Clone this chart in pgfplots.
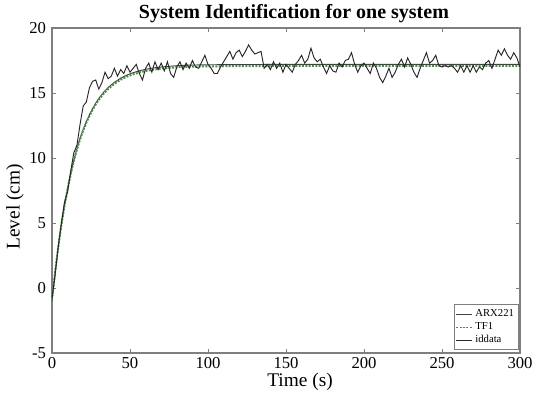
\documentclass[border=0pt]{standalone}
\usepackage{pgfplots}
\pgfplotsset{compat=1.18}
\usepackage{fontspec}
\setmainfont{Liberation Serif}
\definecolor{axgray}{HTML}{7F7F7F}
\definecolor{tfgreen}{HTML}{4E8C4E}
\begin{document}
\begin{tikzpicture}[x=1pt,y=1pt]
\begin{axis}[
  at={(0,0)}, anchor=south west,
  scale only axis, width=351pt, height=243.75pt,
  xmin=0, xmax=300, ymin=-5, ymax=20,
  xtick={0,50,...,300}, ytick={-5,0,...,20},
  tick align=inside, tick pos=both,
  major tick length=3pt,
  axis line style={axgray, line width=0.8pt},
  every tick/.style={axgray, line width=0.6pt},
  /pgf/number format/assume math mode=true,
  ticklabel style={font=\fontsize{12.5}{14}\selectfont, text=black},
  yticklabel style={xshift=-1pt},
  title={\textbf{System Identification for one system}},
  title style={font=\fontsize{15}{17}\selectfont, at={(axis description cs:0.517,1.043)}, anchor=center, yshift=-6pt},
  xlabel={Time (s)},
  xlabel style={font=\fontsize{14.5}{16}\selectfont, at={(axis description cs:0.53,-0.089)}, anchor=center},
  ylabel={Level (cm)},
  ylabel style={font=\fontsize{14.5}{16}\selectfont, at={(axis description cs:-0.079,0.45)}, anchor=center, rotate=0},
  legend style={at={(1,0)}, anchor=south east, xshift=-0.75pt, yshift=2.25pt,
    font=\fontsize{8}{9}\selectfont, draw=axgray, line width=0.6pt, inner sep=1.5pt,
    row sep=-1pt, cells={anchor=west}},
  legend image post style={line width=0.6pt},
  legend image code/.code={\draw[#1] (0pt,0pt) -- (12pt,0pt);},
  legend cell align=left,
]
% ARX221
\addplot[color=black!75, line width=0.7pt] coordinates {
(0,-1.00) (2,1.20) (4,3.13) (6,4.84) (8,6.33) (10,7.65) (12,8.81) (14,9.83)
(16,10.72) (18,11.50) (20,12.20) (22,12.80) (24,13.32) (26,13.80) (28,14.22)
(30,14.58) (32,14.89) (34,15.18) (36,15.42) (38,15.63) (40,15.82) (44,16.14)
(48,16.38) (52,16.56) (56,16.71) (60,16.82) (65,16.93) (70,17.00) (80,17.10)
(90,17.15) (100,17.17) (120,17.19) (150,17.20) (200,17.20) (250,17.20) (300,17.20)
};
\addlegendentry{ARX221}
% TF1
\addplot[color=tfgreen, line width=1.5pt, densely dotted] coordinates {
(0,-0.90) (2,1.25) (4,3.15) (6,4.84) (8,6.32) (10,7.62) (12,8.77) (14,9.78)
(16,10.66) (18,11.44) (20,12.12) (22,12.72) (24,13.24) (26,13.71) (28,14.12)
(30,14.48) (32,14.79) (34,15.07) (36,15.31) (38,15.52) (40,15.71) (44,16.02)
(48,16.26) (52,16.44) (56,16.58) (60,16.69) (65,16.80) (70,16.88) (80,16.98)
(90,17.03) (100,17.05) (120,17.07) (150,17.08) (200,17.08) (250,17.08) (300,17.08)
};
\addlegendentry{TF1}
% iddata
\addplot[color=black!85, line width=0.7pt] coordinates {
(0,-0.8) (2,1.0) (4,3.2) (6,5.0) (8,6.6) (10,7.4) (12,9.0) (14,10.4) (16,11.0)
(18,12.6) (20,14.0) (22,14.3) (24,15.4) (26,15.9) (28,16.0) (30,15.3) (32,15.8)
(34,16.6) (36,16.1) (38,16.3) (40,16.9) (42,16.3) (44,16.8) (46,16.5) (48,17.1)
(50,16.6) (52,16.9) (54,17.2) (56,16.5) (58,16.0) (60,16.9) (62,17.3) (64,16.6)
(66,17.4) (68,16.8) (70,17.3) (72,16.7) (74,17.4) (76,16.5) (78,16.2) (80,17.0)
(82,17.4) (84,16.8) (86,17.3) (88,16.9) (90,17.5) (92,17.0) (94,16.9) (96,17.4)
(98,17.9) (100,17.2) (102,16.9) (104,16.5) (106,16.5) (108,17.0) (110,17.4)
(112,17.8) (114,18.2) (116,17.6) (118,18.1) (120,18.3) (122,17.8) (124,18.2)
(126,18.7) (128,18.3) (130,18.0) (132,18.1) (134,18.2) (136,16.9) (138,17.2)
(140,16.8) (142,17.4) (144,16.9) (146,17.3) (148,16.6) (150,17.2) (152,16.9)
(154,16.6) (156,17.2) (158,17.5) (160,17.9) (162,17.3) (164,17.6) (166,18.45)
(168,17.7) (170,17.4) (172,17.6) (174,17.0) (176,16.5) (178,17.1) (180,16.7)
(182,16.6) (184,17.3) (186,17.0) (188,17.5) (190,17.6) (192,18.1) (194,17.2)
(196,16.6) (198,17.1) (200,17.3) (202,16.9) (204,16.5) (206,17.3) (208,16.9)
(210,16.2) (212,15.8) (214,16.3) (216,16.9) (218,16.2) (220,16.6) (222,17.2)
(224,17.6) (226,17.0) (228,17.7) (230,17.2) (232,16.6) (234,16.2) (236,16.9)
(238,17.5) (240,18.1) (242,17.3) (244,17.5) (246,17.9) (248,17.1) (250,17.0)
(252,17.1) (254,17.0) (256,17.1) (258,16.9) (260,16.6) (262,17.1) (264,16.6)
(266,17.1) (268,16.6) (270,17.1) (272,16.6) (274,17.0) (276,16.8) (278,17.3)
(280,17.5) (282,16.9) (284,17.6) (286,18.3) (288,17.9) (290,18.4) (292,17.9)
(294,17.6) (296,18.1) (298,17.7) (300,17.0)
};
\addlegendentry{iddata}
\end{axis}
\pgfresetboundingbox
\path (-39pt,-33pt) rectangle (363pt,264.75pt);
\end{tikzpicture}
\end{document}
